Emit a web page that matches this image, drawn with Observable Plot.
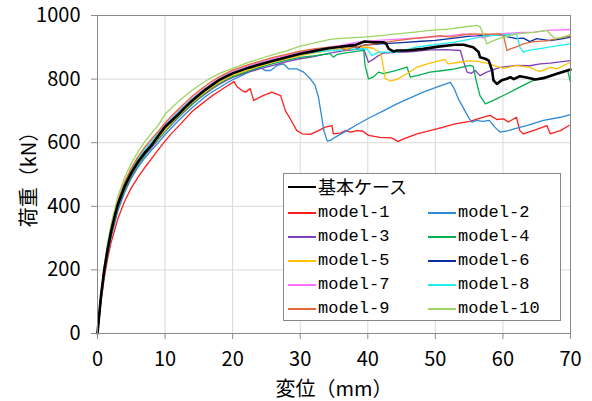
<!DOCTYPE html>
<html>
<head>
<meta charset="utf-8">
<script src="https://cdn.jsdelivr.net/npm/d3@7"></script>
<script src="https://cdn.jsdelivr.net/npm/@observablehq/plot@0.6"></script>
<style>
  body { margin: 0; background: #fff; }
  #wrap { position: relative; width: 592px; height: 401px; font-family: "Noto Sans CJK JP", sans-serif; }
  #legend { position: absolute; left: 283px; top: 173px; width: 278px; height: 148px; border: 1px solid #888; background: #fff; box-sizing: border-box; }
  .sw { position: absolute; height: 0; }
  .lt { position: absolute; font-size: 17px; line-height: 18px; color: #000; white-space: nowrap; font-family: "Liberation Mono", "DejaVu Sans Mono", monospace; }
  .lt.jp { font-family: "Noto Sans CJK JP", sans-serif; font-size: 18px; line-height: 20px; }
</style>
</head>
<body>
<div id="wrap">
  <div id="chart"></div>
  <div id="legend"></div>
</div>
<script>
// ---- data (displacement mm, load kN) ----
const xTicks = [0, 10, 20, 30, 40, 50, 60, 70];
const yTicks = [0, 200, 400, 600, 800, 1000];

const seriesNames = ["model-1","model-2","model-3","model-4","model-5","model-6","model-7","model-8","model-9","model-10"];
const seriesColors = ["#FF1E1E","#2E8AD6","#7F3FB8","#00B050","#FFC000","#0A2F9E","#FF70FF","#1EF0F0","#E2683A","#9ED463"];
const baseName = "基本ケース";

const base = [[0,0],[0.5,115],[1,200],[1.5,265],[2,320],[2.5,365],[3,405],[4,462],[5,505],[6,540],[7,568],[8,592],[9,622],[10,650],[11,670],[12,690],[13,712],[14,732],[15,750],[16,767],[17,782],[18,797],[19,808],[20,818],[22,833],[24,846],[26,858],[28,869],[30,880],[32,888],[34,896],[36,902],[38,906],[39.5,918],[40.8,916],[42.3,916],[42.7,912],[43.1,895],[43.8,887],[44.3,890],[45.8,890],[48.2,895],[50.7,903],[52.9,908],[54.2,908],[55.6,900],[56.4,885],[56.6,869],[57.4,864],[57.9,858],[58.4,827],[58.6,796],[59.1,785],[59.8,796],[60.6,801],[61.1,806],[61.6,800],[62.5,809],[63.5,805],[64.8,799],[66,803],[68,817],[70,830]];

const model1 = [[0,0],[0.5,95],[1,175],[1.5,235],[2,285],[3,360],[4,415],[5,458],[6,492],[7,522],[8,550],[9,578],[10,605],[11,630],[12,652],[13,675],[14,698],[15,715],[16,732],[17,748],[18,762],[19,776],[20.2,792],[20.7,775],[21.4,764],[21.9,759],[22.6,770],[23.1,733],[24.5,748],[25.8,759],[27.1,748],[27.8,701],[28.5,676],[29.5,638],[30.3,628],[31.5,626],[32.7,638],[33.7,649],[34.7,654],[34.9,628],[35.9,630],[36.7,638],[37.5,633],[38.4,638],[39.3,636],[40.1,623],[41.8,617],[43.5,615],[44.5,604],[45.3,612],[47.3,628],[49.2,638],[51.2,649],[52.9,659],[55.1,667],[57,680],[58.1,686],[59.1,673],[60.1,675],[60.8,665],[62,680],[62.5,638],[63,628],[64.5,638],[66.5,654],[67,628],[68.5,638],[69.8,654]];

const model2 = [[0,0],[0.5,105],[1,185],[1.5,248],[2,300],[3,385],[4,443],[5,488],[6,523],[7,552],[8,577],[9,600],[10,625],[11,648],[12,670],[13,690],[14,710],[15,728],[16,745],[17,760],[18,773],[19,786],[20,798],[21,808],[22,818],[23,828],[24.1,837],[24.8,827],[25.6,827],[26.6,843],[27.5,848],[28.3,832],[29.5,832],[30.5,822],[31.5,801],[32.2,780],[32.7,743],[33.1,691],[33.5,638],[34,605],[34.4,607],[35.4,620],[36.9,638],[38.5,658],[40.4,680],[42.3,700],[44.3,722],[46.2,740],[48.2,759],[50.2,775],[52.2,790],[52.7,774],[53.4,738],[54.2,707],[54.9,680],[55.4,665],[56.1,670],[57,667],[58,670],[58.8,649],[59.6,633],[60.8,638],[61.8,644],[63.5,654],[66,670],[68.5,680],[70,688]];

const model3 = [[0,0],[0.5,108],[1,190],[1.5,255],[2,308],[3,392],[4,450],[5,495],[6,530],[7,560],[8,585],[9,610],[10,635],[11,658],[12,680],[13,700],[14,720],[15,738],[16,754],[17,770],[18,783],[19,795],[20,805],[22,820],[24,832],[26,843],[28,855],[30,864],[32,871],[34,880],[36,888],[38,893],[39.4,895],[40.1,853],[40.8,862],[41.6,874],[42.3,882],[44.3,884],[46.3,886],[49.2,892],[51.7,893],[53.7,890],[54.2,853],[54.7,822],[55.3,818],[55.9,827],[56.6,811],[57.6,822],[58.6,830],[59.6,837],[62,843],[64,842],[65.5,848],[67,850],[70,858]];

const model4 = [[0,0],[0.5,110],[1,192],[1.5,258],[2,312],[3,395],[4,452],[5,497],[6,532],[7,562],[8,588],[9,612],[10,637],[11,660],[12,682],[13,703],[14,722],[15,740],[16,757],[17,772],[18,786],[19,798],[20,808],[22,823],[24,837],[26,849],[28,860],[30,868],[32,873],[34.4,880],[34.9,869],[35.5,878],[37,883],[39.4,890],[39.6,843],[40.1,801],[40.8,806],[41.6,822],[42.3,817],[44.1,827],[45.8,838],[46.3,806],[47.3,811],[49.2,822],[51.2,827],[52.9,832],[55.1,843],[55.6,840],[56.1,790],[56.6,748],[57.4,722],[58.6,733],[60.6,754],[62.5,775],[64.5,796],[67,811],[69.2,827],[69.6,825],[70,790]];

const model5 = [[0,0],[0.5,112],[1,196],[1.5,262],[2,316],[3,400],[4,457],[5,500],[6,536],[7,565],[8,590],[9,615],[10,640],[11,663],[12,685],[13,706],[14,726],[15,744],[16,760],[17,775],[18,790],[19,801],[20,812],[22,827],[24,841],[26,853],[28,864],[30,874],[32,882],[34,889],[36,895],[38,899],[39.4,901],[40.8,897],[41.3,890],[41.8,885],[42.1,864],[42.6,801],[43.3,794],[44.3,799],[45.8,817],[47.3,838],[49.2,850],[51.4,862],[51.9,848],[53.5,853],[55.1,858],[56.5,855],[58.1,848],[58.6,843],[60.1,834],[62,843],[64,837],[65,827],[65.5,824],[67,837],[68,832],[70,853]];

const model6 = [[0,0],[0.5,116],[1,202],[1.5,268],[2,322],[3,407],[4,464],[5,507],[6,542],[7,571],[8,596],[9,620],[10,647],[11,670],[12,692],[13,713],[14,733],[15,751],[16,768],[17,783],[18,797],[19,809],[20,819],[22,834],[24,847],[26,859],[28,870],[30,880],[32,889],[34,896],[36,903],[37.9,911],[38.4,895],[39,905],[40,908],[42,911],[45,915],[48,919],[50,922],[52.2,927],[55.1,935],[57,937],[59.6,939],[60.5,934],[62,927],[63,929],[64,918],[65,927],[67,921],[68.5,926],[70,932]];

const model7 = [[0,0],[0.5,118],[1,205],[1.5,272],[2,327],[3,412],[4,470],[5,514],[6,550],[7,580],[8,606],[9,630],[10,656],[11,679],[12,700],[13,720],[14,740],[15,757],[16,773],[17,788],[18,802],[19,814],[20,824],[22,839],[24,852],[26,864],[28,875],[30,885],[32,893],[34,900],[36,906],[38.4,916],[40.8,921],[44,925],[48,930],[52,936],[54.2,942],[56,935],[57.1,930],[58,936],[59.6,942],[62.8,947],[64.5,947],[66.5,953],[70,956]];

const model8 = [[0,0],[0.5,117],[1,204],[1.5,270],[2,325],[3,410],[4,468],[5,512],[6,548],[7,578],[8,604],[9,628],[10,653],[11,676],[12,697],[13,717],[14,737],[15,754],[16,770],[17,785],[18,799],[19,810],[20,820],[22,835],[24,848],[26,859],[28,869],[30,878],[32,884],[34,889],[36,892],[38,894],[39.9,895],[40.6,874],[41.6,885],[44.3,885],[47.3,901],[50.7,911],[52.9,916],[55,925],[57.1,935],[60,939],[62,942],[62.5,901],[63,885],[63.8,890],[65.5,896],[67,901],[70,911]];

const model9 = [[0,0],[0.5,120],[1,208],[1.5,276],[2,332],[3,418],[4,476],[5,520],[6,556],[7,586],[8,612],[9,636],[10,662],[11,685],[12,706],[13,726],[14,746],[15,763],[16,779],[17,794],[18,807],[19,818],[20,828],[22,843],[24,856],[26,868],[28,878],[30,888],[32,895],[34,900],[35.5,903],[36.9,890],[37.5,898],[39.4,906],[42,914],[44.3,921],[47,928],[50.7,937],[52.2,932],[55.1,942],[57,941],[59.6,942],[60.1,935],[60.6,890],[61.1,895],[62,901],[63,911],[64.5,918],[66.5,920],[68.5,930],[70,935]];

const model10 = [[0,0],[0.5,125],[1,215],[1.5,285],[2,342],[3,430],[4,490],[5,535],[6,572],[7,603],[8,630],[9,655],[10,690],[11,710],[12,730],[13,748],[14,765],[15,780],[16,794],[17,806],[18,817],[19,826],[20,834],[22,850],[24,864],[26,877],[28,889],[30,904],[32,913],[34.4,925],[36,928],[39.4,932],[42,937],[44.3,942],[47,948],[49.2,953],[52.2,958],[54,963],[56.1,969],[56.6,965],[57.1,942],[57.6,911],[58.6,921],[60.1,932],[62,942],[64.5,947],[66.5,953],[67,942],[67.7,927],[68.9,932],[70,940]];

const modelData = [model1, model2, model3, model4, model5, model6, model7, model8, model9, model10];

// ---- chart ----
const toRows = (pts) => pts.map(([x, y]) => ({x, y}));
const FONT = "'Noto Sans CJK JP', sans-serif";

const lineMarks = modelData.map((pts, i) =>
  Plot.line(toRows(pts), {x: "x", y: "y", stroke: seriesColors[i], strokeWidth: 1.3})
);

const chart = Plot.plot({
  width: 592,
  height: 401,
  marginLeft: 97,
  marginRight: 22,
  marginTop: 15,
  marginBottom: 68,
  style: {fontFamily: FONT, fontSize: "20px", color: "#000", background: "#fff"},
  x: {domain: [0, 70]},
  y: {domain: [0, 1000]},
  marks: [
    Plot.gridX(xTicks, {stroke: "#d9d9d9", strokeOpacity: 1}),
    Plot.gridY(yTicks, {stroke: "#d9d9d9", strokeOpacity: 1}),
    ...lineMarks,
    Plot.line(toRows(base), {x: "x", y: "y", stroke: "#000", strokeWidth: 2.6}),
    Plot.frame({stroke: "#8a8a8a"}),
    Plot.axisX(xTicks, {tickSize: 6, stroke: "#8a8a8a", fill: "none", label: null}),
    Plot.axisY(yTicks, {tickSize: 6, stroke: "#8a8a8a", fill: "none", label: null}),
    Plot.axisX(xTicks, {tickSize: 0, tickPadding: 18, fill: "#000", fontSize: 20, tickFormat: d => String(d),
      label: "変位（mm）", labelAnchor: "center", labelOffset: 62, labelArrow: "none"}),
    Plot.axisY(yTicks, {tickSize: 0, tickPadding: 17, fill: "#000", fontSize: 20, tickFormat: d => String(d),
      label: "荷重（kN）", labelAnchor: "center", labelOffset: 76, labelArrow: "none"})
  ]
});
document.getElementById("chart").appendChild(chart);

// ---- legend ----
const legend = document.getElementById("legend");
function addEntry(name, color, width, col, row, jp) {
  const left = col === 0 ? 4 : 144;
  const cy = row === 0 ? 13 : 39 + (row - 1) * 24;
  const sw = document.createElement("div");
  sw.className = "sw";
  sw.style.left = left + "px";
  sw.style.width = "28px";
  sw.style.top = (cy - width / 2) + "px";
  sw.style.borderTop = width + "px solid " + color;
  legend.appendChild(sw);
  const t = document.createElement("div");
  t.className = jp ? "lt jp" : "lt";
  t.style.left = (left + 30) + "px";
  t.style.top = (cy - (jp ? 11 : 9)) + "px";
  t.textContent = name;
  legend.appendChild(t);
}
addEntry(baseName, "#000", 2.6, 0, 0, true);
seriesNames.forEach((n, i) => addEntry(n, seriesColors[i], 2, i % 2, 1 + Math.floor(i / 2), false));
</script>
</body>
</html>
